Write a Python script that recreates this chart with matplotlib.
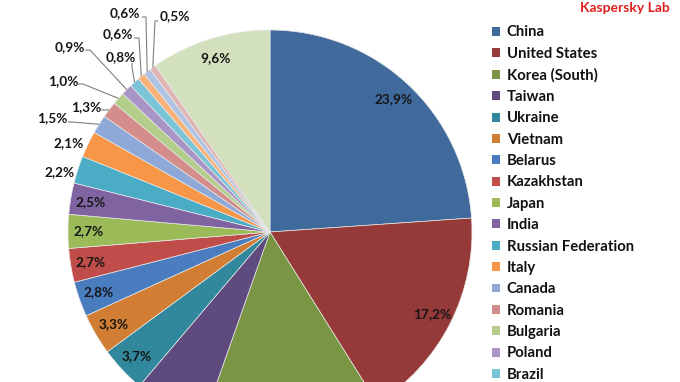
import numpy as np
import matplotlib
matplotlib.use("Agg")
import matplotlib.pyplot as plt

# ---- data ----
countries = ["China", "United States", "Korea (South)", "Taiwan", "Ukraine", "Vietnam",
             "Belarus", "Kazakhstan", "Japan", "India", "Russian Federation", "Italy",
             "Canada", "Romania", "Bulgaria", "Poland", "Brazil",
             "Other 1", "Other 2", "Other 3", "Other"]
shares = [23.9, 17.2, 14.3, 5.8, 3.7, 3.3, 2.8, 2.7, 2.7, 2.5, 2.2, 2.1,
          1.5, 1.3, 1.0, 0.9, 0.8, 0.6, 0.6, 0.5, 9.6]
n_legend = 17  # entries visible in the legend

colors = ["#40699C", "#953A38", "#7A9544", "#5E4A7E", "#31879C", "#D17D33",
          "#4A7CC0", "#C04D4A", "#9BBB59", "#8064A2", "#4BACC6", "#F79646",
          "#8EA9D8", "#D48D8B", "#B3CE8B", "#A895C6", "#7BC4D8", "#F9B37A",
          "#AFC3E4", "#E0B4B3", "#D3E0BD"]

W, H = 680, 382
FONT = ["Lato", "DejaVu Sans"]

fig = plt.figure(figsize=(W / 100, H / 100), dpi=100)
ax = fig.add_axes([0, 0, 1, 1])

cx, cy, R = 270, H - 232, 202
wedges, _ = ax.pie(shares, colors=colors, startangle=90, counterclock=False,
                   center=(cx, cy), radius=R,
                   wedgeprops=dict(edgecolor="#e8e8e8", linewidth=0.5))
ax.set_xlim(0, W)
ax.set_ylim(0, H)
ax.set_aspect("equal")
ax.axis("off")

def fmt(v):
    return f"{v:.1f}%".replace(".", ",")

# mid angles (degrees, clockwise from top)
cum = np.cumsum([0] + shares)
tot = cum[-1]
mids = [(cum[i] + cum[i + 1]) / 2 / tot * 360 for i in range(len(shares))]

def polar(theta_deg, r):
    t = np.radians(theta_deg)
    return cx + r * np.sin(t), cy + r * np.cos(t)

txtkw = dict(fontsize=9.8, fontweight="bold", color="#151515", family=FONT)

# labels inside the pie (Korea / Taiwan labels fall outside the visible area)
inside = [0, 1, 4, 5, 6, 7, 8, 9, 20]
for i in inside:
    x, y = polar(mids[i], R * 0.9)
    ax.text(x, y, fmt(shares[i]), ha="center", va="center", **txtkw)

# labels outside (layout in image pixel coords, y down)
outside = {
    10: dict(pos=(60, 172), ha="center", line=None),
    11: dict(pos=(69, 143), ha="center", line=None),
    12: dict(pos=(52, 118), ha="center", line=[(68, 122), (72, 122)]),
    13: dict(pos=(86, 107), ha="center", line=[(101, 110), (105, 110)]),
    14: dict(pos=(63, 81), ha="center", line=[(78, 84), (83, 84)]),
    15: dict(pos=(70, 47), ha="center", line=[(85, 50), (90, 50)]),
    16: dict(pos=(121, 57), ha="center", line=[(132, 63), (132, 67)]),
    17: dict(pos=(118, 34), ha="center", line=[(134, 38), (139, 38)]),
    18: dict(pos=(125, 13), ha="center", line=[(142, 17), (146, 17)]),
    19: dict(pos=(160, 16), ha="left", line=[(158, 21), (155, 21)]),
}
for i, d in outside.items():
    px, py = d["pos"]
    ax.text(px, H - py, fmt(shares[i]), ha=d["ha"], va="center", **txtkw)
    if d["line"]:
        ex, ey = polar(mids[i], R)
        xs = [p[0] for p in d["line"]] + [ex]
        ys = [H - p[1] for p in d["line"]] + [ey]
        ax.plot(xs, ys, color="#7f7f7f", lw=0.8, solid_capstyle="butt")

# legend
leg = ax.legend(wedges[:n_legend], countries[:n_legend],
                loc="upper left", bbox_to_anchor=(492 / W, 1 - 25.5 / H),
                bbox_transform=fig.transFigure, frameon=False,
                prop=dict(family=FONT, weight="bold", size=10.7),
                handlelength=0.55, handleheight=0.55, handletextpad=0.45,
                labelspacing=0.495, borderaxespad=0, borderpad=0)
for t in leg.get_texts():
    t.set_color("#111111")
for h in leg.legend_handles:
    h.set_edgecolor("none")

fig.text(670 / W, 1 - 8 / H, "Kaspersky Lab", ha="right", va="center",
         fontsize=10, fontweight="bold", color="#E0201E", family=FONT)

fig.savefig("out.png", dpi=100)
